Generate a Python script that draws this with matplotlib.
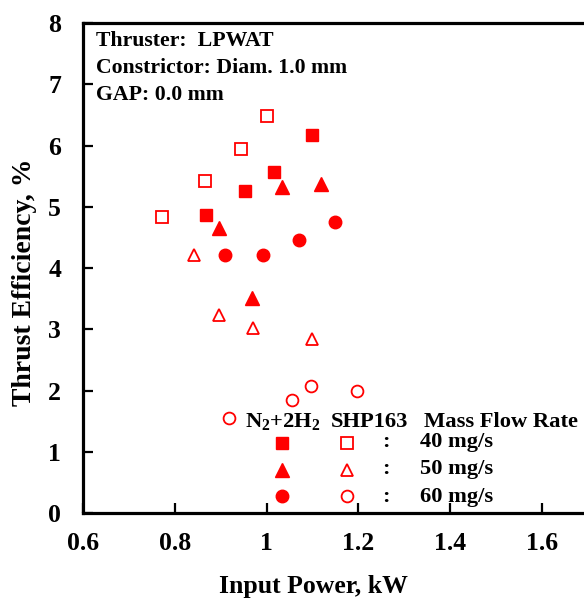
import numpy as np
import matplotlib
matplotlib.use("Agg")
import matplotlib.pyplot as plt

plt.rcParams['font.family'] = ['Liberation Serif', 'DejaVu Serif']
plt.rcParams['font.weight'] = 'bold'
plt.rcParams['mathtext.fontset'] = 'custom'
plt.rcParams['mathtext.rm'] = 'Liberation Serif:bold'
plt.rcParams['mathtext.it'] = 'Liberation Serif:bold'
plt.rcParams['mathtext.bf'] = 'Liberation Serif:bold'

# N2+2H2 (filled markers)
n2h2_40_x = [0.868, 0.952, 1.017, 1.099]
n2h2_40_y = [4.87, 5.26, 5.565, 6.175]
n2h2_50_x = [0.895, 0.967, 1.033, 1.118]
n2h2_50_y = [4.66, 3.52, 5.33, 5.37]
n2h2_60_x = [0.910, 0.991, 1.070, 1.148]
n2h2_60_y = [4.21, 4.21, 4.46, 4.75]

# SHP163 (open markers)
shp_40_x = [0.772, 0.865, 0.945, 1.000]
shp_40_y = [4.83, 5.43, 5.94, 6.49]
shp_50_x = [0.841, 0.895, 0.971, 1.099]
shp_50_y = [4.21, 3.235, 3.03, 2.85]
shp_60_x = [0.917, 1.055, 1.097, 1.198]
shp_60_y = [1.55, 1.85, 2.08, 2.00]

legend_rates = ['40 mg/s', '50 mg/s', '60 mg/s']
info_lines = ['Thruster:  LPWAT', 'Constrictor: Diam. 1.0 mm', 'GAP: 0.0 mm']

red = '#FF0000'

fig = plt.figure(figsize=(5.84, 6.11), dpi=100)
ax = fig.add_axes([0.1426, 0.1604, 0.8637, 0.8015])

ax.plot(n2h2_40_x, n2h2_40_y, 's', color=red, ms=9, mec=red, ls='none')
ax.plot(n2h2_50_x, n2h2_50_y, '^', color=red, ms=10, mec=red, ls='none')
ax.plot(n2h2_60_x, n2h2_60_y, 'o', color=red, ms=9, mec=red, ls='none')
ax.plot(shp_40_x, shp_40_y, 's', mfc='white', mec=red, ms=8.3, mew=1.3, ls='none')
ax.plot(shp_50_x, shp_50_y, '^', mfc='white', mec=red, ms=9, mew=1.3, ls='none')
ax.plot(shp_60_x, shp_60_y, 'o', mfc='white', mec=red, ms=8.5, mew=1.3, ls='none')

# hand-made legend inside the axes
fs_leg = 16.2
ax.text(0.953, 1.40, r'$\mathrm{N_2{+}2H_2}$', fontsize=fs_leg, ha='left', va='baseline')
ax.text(1.139, 1.40, 'SHP163', fontsize=fs_leg, ha='left', va='baseline')
ax.text(1.344, 1.40, 'Mass Flow Rate', fontsize=fs_leg, ha='left', va='baseline')
leg_y = [1.15, 0.70, 0.27]
leg_txt_y = [1.085, 0.638, 0.185]
filled_mk = [('s', 9), ('^', 10), ('o', 9)]
open_mk = [('s', 8.3), ('^', 9), ('o', 8.5)]
for i in range(3):
    ax.plot([1.033], [leg_y[i]], filled_mk[i][0], color=red, ms=filled_mk[i][1], ls='none')
    ax.plot([1.175], [leg_y[i]], open_mk[i][0], mfc='white', mec=red,
            ms=open_mk[i][1], mew=1.3, ls='none')
    ax.text(1.251, leg_txt_y[i], ':', fontsize=fs_leg, ha='left', va='baseline')
    ax.text(1.335, leg_txt_y[i], legend_rates[i], fontsize=fs_leg, ha='left', va='baseline')

for txt, yy in zip(info_lines, [0.954, 0.899, 0.843]):
    ax.text(0.026, yy, txt, transform=ax.transAxes, fontsize=15.7,
            ha='left', va='baseline')

ax.set_xlim(0.6, 1.7)
ax.set_ylim(0, 8)
ax.set_xticks([0.6, 0.8, 1.0, 1.2, 1.4, 1.6])
ax.set_xticklabels(['0.6', '0.8', '1', '1.2', '1.4', '1.6'])
ax.set_yticks(range(0, 9))

ax.tick_params(direction='in', length=7, width=1.6, labelsize=18.5)
ax.tick_params(axis='y', pad=16)
ax.tick_params(axis='x', pad=14)
for sp in ax.spines.values():
    sp.set_linewidth(2.3)

ax.set_xlabel('Input Power, kW', fontsize=18.5, fontweight='bold')
ax.set_ylabel('Thrust Efficiency, %', fontsize=20, fontweight='bold')
ax.xaxis.set_label_coords(0.456, -0.151)
ax.xaxis.label.set_va('center')
ax.yaxis.set_label_coords(-0.117, 0.472)
ax.yaxis.label.set_va('center')

fig.savefig('out.png', dpi=100)
